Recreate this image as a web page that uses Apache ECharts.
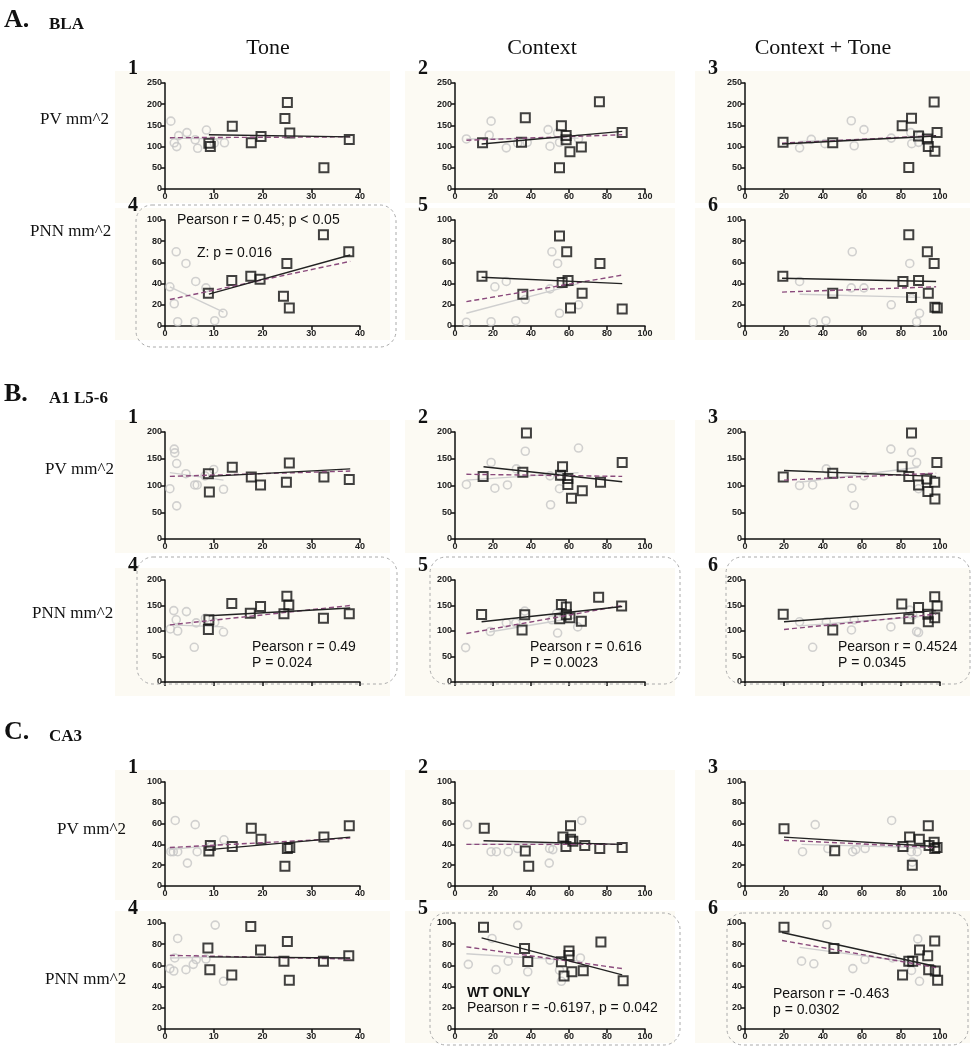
<!DOCTYPE html>
<html>
<head>
<meta charset="utf-8">
<script src="https://cdn.jsdelivr.net/npm/echarts@6/dist/echarts.min.js"></script>
<style>
  html, body { margin: 0; padding: 0; background: #fff; }
  #main { width: 976px; height: 1050px; }
</style>
</head>
<body>
<div id="main"></div>
<script>
// ---- data: [x, y] pairs ----
// squares = black hollow squares, circles = grey hollow circles
// fit = [black line, grey line, purple dashed line], each two end points

// A. BLA
var A1_sq = [[9,108],[9.3,100],[13.8,148],[17.7,109],[19.7,124],[24.6,166],[25.1,204],[25.6,132],[32.6,50],[37.8,117]];
var A1_ci = [[1.2,160],[1.9,109],[2.4,100],[2.8,126],[4.5,133],[6.2,116],[6.7,96],[8.5,139],[10.1,108],[12.2,109]];
var A1_fit = [[[9,128],[38,123]], [[1,120],[12,118]], [[1,121],[38,123]]];

var A2_sq = [[14.5,109],[35,110],[37,168],[56,149],[58.5,126],[58.5,116],[55,50],[60.5,88],[66.5,99],[76,206],[88,133]];
var A2_ci = [[6,118],[19,160],[18,127],[27,97],[33,108],[38,110],[49,140],[50,101],[54,132],[55,110],[65,118]];
var A2_fit = [[[14,106],[88,136]], [[6,118],[65,120]], [[6,115],[88,128]]];

var A3_sq = [[19.5,110],[45,109],[80.6,149],[85.4,167],[97,205],[84,51],[93.5,118],[94,100],[97.4,89],[98.5,133],[89,125]];
var A3_ci = [[28,97],[34,117],[41,107],[54.5,161],[56,102],[61,140],[75,120],[85,133],[85.5,107],[89,110],[90,128]];
var A3_fit = [[[19,106],[98,125]], [[28,112],[90,122]], [[19,108],[98,126]]];

var A4_sq = [[8.9,31],[13.7,43],[17.6,47],[19.5,44],[24.3,28],[25,59],[25.5,17],[32.5,86],[37.7,70]];
var A4_ci = [[1,37],[1.9,21],[2.3,70],[2.6,4],[4.3,59],[6.3,42],[6.1,4],[8.4,36],[10.2,5],[11.9,12]];
var A4_fit = [[[9,30],[38,67]], [[1,37],[12,13]], [[1,25],[38,61]]];

var A5_sq = [[14.2,47],[35.7,30],[55,85],[56.4,41],[58.8,70],[59.5,43],[60.8,17],[66.9,31],[76.3,59],[88,16]];
var A5_ci = [[6,3.5],[19,4],[32,5],[21,37],[27,42],[37,25],[50,35],[51,70],[54,59],[55,12],[65,20]];
var A5_fit = [[[14,46],[88,40]], [[6,12],[65,40]], [[6,23],[88,48]]];

var A6_sq = [[19.4,47],[45,31],[81,42],[84,86],[85.4,27],[89,43],[93.5,70],[94,31],[97,59],[97.4,17.6],[98.6,17]];
var A6_ci = [[28,42],[35,3.5],[41.5,5],[55,70],[54.5,36],[61,36],[75,20],[84.5,59],[85.4,26],[88,4],[89.5,12]];
var A6_fit = [[[19,45],[98,42]], [[28,30],[90,27]], [[19,32],[98,37]]];

// B. A1 L5-6
var B1_sq = [[8.9,122],[9.1,88],[13.8,134],[17.7,116],[19.6,101],[24.9,106],[25.5,142],[32.6,116],[37.8,111]];
var B1_ci = [[1,94],[1.9,168],[2,161],[2.4,141],[2.4,62],[4.3,122],[6.1,101],[6.6,101],[10,130],[12,93],[8.2,118]];
var B1_fit = [[[9,117],[38,131]], [[1,124],[12,110]], [[1,117],[38,127]]];

var B2_sq = [[14.8,117],[37.6,198],[35.7,125],[56.6,135],[55.5,119],[59.4,113],[59.4,102],[61.3,76],[67,90],[76.6,106],[88,143]];
var B2_ci = [[6,102],[19,143],[21,95],[27.6,101],[32.3,131],[37,164],[55.5,117],[55,94],[50.3,64],[65,170],[50,118]];
var B2_fit = [[[15,135],[88,107]], [[6,110],[65,124]], [[6,121],[88,117]]];

var B3_sq = [[19.6,116],[45,123],[80.6,135],[85.4,198],[84,117],[89,101],[93.2,112],[93.8,89],[97.3,106],[97.4,75],[98.4,143]];
var B3_ci = [[28,100],[34.7,101],[41.7,131],[54.8,95],[56,63],[61,118],[74.8,168],[85.4,162],[88,143],[89,94]];
var B3_fit = [[[20,128],[98,117]], [[28,106],[89,134]], [[20,110],[98,123]]];

var B4_sq = [[8.9,103],[9,122],[13.7,154],[17.5,135],[19.6,148],[24.4,134],[25,168],[25.4,151],[32.5,125],[37.8,134]];
var B4_ci = [[1.1,104],[1.8,140],[2.3,122],[2.6,100],[4.4,138],[6,68],[6.4,116],[8.3,125],[10.2,117],[12,98]];
var B4_fit = [[[9,130],[38,145]], [[1,112],[12,108]], [[1,112],[38,150]]];

var B5_sq = [[14,132.5],[35.3,102],[36.7,132],[56,152],[55.1,124],[58.6,147],[58.6,132],[60.5,126],[66.5,119],[75.6,166],[87.7,149]];
var B5_ci = [[5.6,67.5],[18.6,99],[27,116],[32,116],[36.7,139],[54,96],[53.5,134],[51,122],[64.6,108]];
var B5_fit = [[[14,118],[88,148]], [[18,98],[65,127]], [[6,95],[88,150]]];

var B6_sq = [[19.6,133],[45,102],[80.4,153],[84,124],[89,146],[93.8,133],[94,118],[97.3,167],[97.3,126],[98.5,149]];
var B6_ci = [[28,118],[34.7,68],[41.7,118],[54.6,102],[56,122],[74.8,108],[84.5,141],[88,99],[89,97],[86,131]];
var B6_fit = [[[20,118],[98,140]], [[28,110],[89,128]], [[20,103],[98,133]]];

// C. CA3
var C1_sq = [[9,33.6],[9.3,39],[13.8,38],[17.7,55.5],[19.7,45],[24.6,19],[25.1,36],[25.6,37],[32.6,47],[37.8,58]];
var C1_ci = [[1.2,33],[1.7,33],[2.1,63],[2.6,33],[4.6,22],[6.2,59],[6.6,33],[12.1,44.4],[9.5,38.6]];
var C1_fit = [[[9,35],[38,47]], [[1,35],[12,40]], [[1,37],[38,46]]];

var C2_sq = [[15.4,55.5],[37,33.6],[38.8,19],[56.8,47],[58.4,38],[60.8,58],[60.8,45],[62,43],[68.3,39],[76.2,36],[88,37]];
var C2_ci = [[6.6,59],[19,33],[21.8,33],[28,33],[33,36],[49.8,36],[51.5,35],[49.6,22],[66.7,63]];
var C2_fit = [[[15,43.5],[88,40]], [[6,40],[67,41]], [[6,40],[88,40]]];

var C3_sq = [[20,55],[46,34],[81,38],[84.4,47],[85.8,20],[89.4,45],[94,58],[94.4,39],[97,42],[97.3,36],[98.5,37]];
var C3_ci = [[29.5,33],[36,59],[42.5,36],[55.2,33],[56.8,35],[61.6,36],[75.2,63],[85.3,33],[85.8,23],[88.3,33]];
var C3_fit = [[[20,47],[98,38]], [[29,40],[89,37]], [[20,44],[98,37]]];

var C4_sq = [[8.8,76.4],[9.2,56],[13.7,51],[17.6,96.6],[19.6,74.5],[24.4,64],[25.1,82.6],[25.5,46],[32.5,64],[37.7,69]];
var C4_ci = [[1,57],[1.8,54.7],[2,67],[2.6,85.4],[4.3,56],[5.8,61],[6.4,65.5],[8.4,66],[10.3,98],[12,45]];
var C4_fit = [[[9,68],[38,67]], [[1,67],[12,68]], [[1,69.5],[38,66]]];

var C5_sq = [[15,96],[36.6,76],[38.3,63.7],[56,63.4],[57.4,50],[60,73.6],[60,69.3],[61.5,54],[67.5,55],[76.8,82],[88.5,45.6]];
var C5_ci = [[7,61],[19.5,85.4],[21.6,56],[28,64],[33,97.8],[38.3,54],[50,65],[55,55.5],[56,45],[66,67]];
var C5_fit = [[[14,86],[88,51]], [[6,71],[66,64]], [[6,77.5],[88,57]]];

var C6_sq = [[20,96],[45.6,76],[80.8,51],[84,64],[86,64],[89.5,74.5],[93.7,69],[94.2,56],[97.3,83],[97.6,54.6],[98.8,46]];
var C6_ci = [[29,64],[35.3,61.5],[42,98.4],[55.3,57],[61.5,65.5],[75.6,67],[85.4,55.3],[88.6,85],[89.5,45]];
var C6_fit = [[[19,91],[98,59]], [[28,77],[89,62]], [[19,83.5],[98,58]]];

// axis scales: per column (x) and per row (y)
var xMax = [40, 100, 100];
var xStep = [10, 20, 20];
var yMax = [250, 100, 200, 200, 100, 100];
var yStep = [50, 20, 50, 50, 20, 20];

var sections = [['A.', 'BLA'], ['B.', 'A1 L5-6'], ['C.', 'CA3']];
var columns = ['Tone', 'Context', 'Context + Tone'];
var rowNames = ['PV mm^2', 'PNN mm^2', 'PV mm^2', 'PNN mm^2', 'PV mm^2', 'PNN mm^2'];

var panels = [
  [0,0,A1_sq,A1_ci,A1_fit],[0,1,A2_sq,A2_ci,A2_fit],[0,2,A3_sq,A3_ci,A3_fit],
  [1,0,A4_sq,A4_ci,A4_fit],[1,1,A5_sq,A5_ci,A5_fit],[1,2,A6_sq,A6_ci,A6_fit],
  [2,0,B1_sq,B1_ci,B1_fit],[2,1,B2_sq,B2_ci,B2_fit],[2,2,B3_sq,B3_ci,B3_fit],
  [3,0,B4_sq,B4_ci,B4_fit],[3,1,B5_sq,B5_ci,B5_fit],[3,2,B6_sq,B6_ci,B6_fit],
  [4,0,C1_sq,C1_ci,C1_fit],[4,1,C2_sq,C2_ci,C2_fit],[4,2,C3_sq,C3_ci,C3_fit],
  [5,0,C4_sq,C4_ci,C4_fit],[5,1,C5_sq,C5_ci,C5_fit],[5,2,C6_sq,C6_ci,C6_fit]
];

// ---- layout (pixels) ----
var COLS = [[165, 360], [455, 645], [745, 940]];
var ROWS = [[83, 189], [220, 326], [432, 539], [580, 682], [782, 886], [923, 1029]];

function yPix(row, v) {
  var r = ROWS[row];
  return r[1] - (r[1] - r[0]) * v / yMax[row];
}

var SERIF = '"Liberation Serif", "DejaVu Serif", serif';
var SANS = '"Liberation Sans", Arial, sans-serif';

var grids = [], xAxes = [], yAxes = [], series = [], graphics = [];

panels.forEach(function (p, i) {
  var row = p[0], col = p[1];
  var c = COLS[col], r = ROWS[row];
  grids.push({ left: c[0], top: r[0], width: c[1] - c[0], height: r[1] - r[0] });

  var axisCommon = {
    gridIndex: i,
    type: 'value',
    axisLine: { show: true, onZero: false, lineStyle: { color: '#111', width: 1.5 } },
    axisTick: { show: true, length: 4, lineStyle: { color: '#111', width: 1.5 } },
    splitLine: { show: false },
    axisLabel: { fontSize: 9, fontWeight: 'bold', fontFamily: SANS, color: '#222', margin: 3 }
  };
  xAxes.push(Object.assign({}, axisCommon, {
    min: 0, max: xMax[col], interval: xStep[col],
    axisLabel: Object.assign({}, axisCommon.axisLabel, { show: row !== 3 })
  }));
  yAxes.push(Object.assign({}, axisCommon, { min: 0, max: yMax[row], interval: yStep[row] }));

  // panel background
  graphics.push({
    type: 'rect', z: 0, silent: true,
    shape: { x: c[0] - 50, y: r[0] - 12, width: c[1] - c[0] + 80, height: r[1] - r[0] + 26 },
    style: { fill: '#fcfaf3' }
  });
  // panel number 1..6 inside each section
  graphics.push({
    type: 'text', z: 10, x: c[0] - 32, y: r[0] - 14,
    style: { text: String((row % 2) * 3 + col + 1), font: 'bold 20px ' + SERIF,
             fill: '#111', align: 'center', verticalAlign: 'middle' }
  });

  series.push({
    type: 'scatter', xAxisIndex: i, yAxisIndex: i, data: p[3], z: 2,
    symbol: 'circle', symbolSize: 8,
    itemStyle: { color: 'rgba(0,0,0,0)', borderColor: '#c6c6c6', borderWidth: 1.6 }
  });
  series.push({
    type: 'line', xAxisIndex: i, yAxisIndex: i, data: p[4][1], z: 3,
    symbol: 'none', lineStyle: { color: '#cfcfcf', width: 1.4 }
  });
  series.push({
    type: 'scatter', xAxisIndex: i, yAxisIndex: i, data: p[2], z: 4,
    symbol: 'rect', symbolSize: 9,
    itemStyle: { color: 'rgba(0,0,0,0)', borderColor: '#111', borderWidth: 2 }
  });
  series.push({
    type: 'line', xAxisIndex: i, yAxisIndex: i, data: p[4][2], z: 5,
    symbol: 'none', lineStyle: { color: '#8a4a7c', width: 1.4, type: [5, 3] }
  });
  series.push({
    type: 'line', xAxisIndex: i, yAxisIndex: i, data: p[4][0], z: 6,
    symbol: 'none', lineStyle: { color: '#222', width: 1.4 }
  });
});

// dashed rounded boxes around significant panels
var boxes = [[136, 205, 260, 142], [137, 557, 260, 127], [430, 557, 250, 127], [726, 557, 244, 127],
             [430, 913, 250, 132], [727, 913, 241, 132]];
boxes.forEach(function (b) {
  graphics.push({
    type: 'rect', z: 1, silent: true,
    shape: { x: b[0], y: b[1], width: b[2], height: b[3], r: 16 },
    style: { fill: 'none', stroke: '#aaaaaa', lineWidth: 1, lineDash: [3, 3] }
  });
});

// section heading, column headers, row labels
var sectionY = [20, 394, 732];
sections.forEach(function (s, k) {
  graphics.push({ type: 'text', z: 10, x: 4, y: sectionY[k],
    style: { text: s[0], font: 'bold 26px ' + SERIF, fill: '#111', verticalAlign: 'middle' } });
  graphics.push({ type: 'text', z: 10, x: 49, y: sectionY[k] + 5,
    style: { text: s[1], font: 'bold 17px ' + SERIF, fill: '#111', verticalAlign: 'middle' } });
});
var colCenters = [268, 542, 823];
columns.forEach(function (t, k) {
  graphics.push({ type: 'text', z: 10, x: colCenters[k], y: 48,
    style: { text: t, font: '22px ' + SERIF, fill: '#111', align: 'center', verticalAlign: 'middle' } });
});
var rowLabelPos = [[40, 120], [30, 232], [45, 470], [32, 614], [57, 830], [45, 980]];
rowNames.forEach(function (t, k) {
  graphics.push({ type: 'text', z: 10, x: rowLabelPos[k][0], y: rowLabelPos[k][1],
    style: { text: t, font: '17px ' + SERIF, fill: '#111', verticalAlign: 'middle' } });
});

// statistics annotations: [row, left px, y value, text, bold]
var notes = [
  [1, 177, 100, 'Pearson r = 0.45; p < 0.05', false],
  [1, 197, 69, 'Z: p = 0.016', false],
  [3, 252, 68, 'Pearson r = 0.49', false],
  [3, 252, 37, 'P = 0.024', false],
  [3, 530, 68, 'Pearson r = 0.616', false],
  [3, 530, 37, 'P = 0.0023', false],
  [3, 838, 68, 'Pearson r = 0.4524', false],
  [3, 838, 37, 'P = 0.0345', false],
  [5, 467, 33.5, 'WT ONLY', true],
  [5, 467, 19.5, 'Pearson r = -0.6197, p = 0.042', false],
  [5, 773, 33, 'Pearson r = -0.463', false],
  [5, 773, 17.7, 'p = 0.0302', false]
];
notes.forEach(function (n) {
  graphics.push({ type: 'text', z: 10, x: n[1], y: yPix(n[0], n[2]),
    style: { text: n[3], font: (n[4] ? 'bold ' : '') + '14px ' + SANS, fill: '#111', verticalAlign: 'middle' } });
});

var chart = echarts.init(document.getElementById('main'));
chart.setOption({
  animation: false,
  backgroundColor: '#ffffff',
  grid: grids,
  xAxis: xAxes,
  yAxis: yAxes,
  series: series,
  graphic: { elements: graphics }
});
</script>
</body>
</html>
